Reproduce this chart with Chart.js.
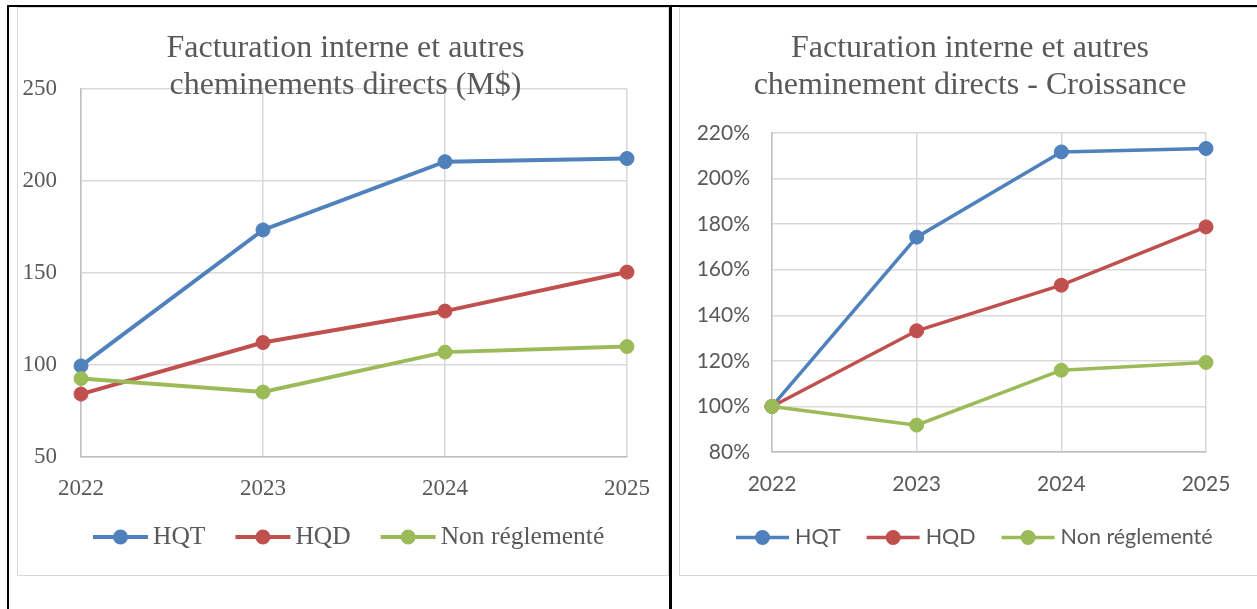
<!DOCTYPE html>
<html lang="fr">
<head>
<meta charset="utf-8">
<title>Facturation interne et autres cheminements directs</title>
<script src="https://cdn.jsdelivr.net/npm/chart.js@4"></script>
<style>
  html, body { margin: 0; padding: 0; background: #fff; overflow: hidden; }
  body { width: 1257px; height: 609px; position: relative; }
  .trait { position: absolute; background: #000; }
  .boite { position: absolute; box-sizing: border-box; border: 1px solid #d9d9d9; pointer-events: none; }
  canvas { position: absolute; }
</style>
</head>
<body>
<div class="trait" style="left:7px; top:5px; width:1250px; height:2px;"></div>
<div class="trait" style="left:7px; top:5px; width:2px; height:604px;"></div>
<div class="trait" style="left:669px; top:5px; width:3px; height:604px;"></div>

<canvas id="graphMontant" width="651" height="568" style="left:17px; top:7px;"></canvas>
<div class="boite" style="left:17px; top:7px; width:652px; height:569px;"></div>

<canvas id="graphCroissance" width="583" height="568" style="left:679px; top:7px;"></canvas>
<div class="boite" style="left:679px; top:7px; width:600px; height:569px;"></div>

<script>
// données
const annees = ["2022", "2023", "2024", "2025"];
const series = ["HQT", "HQD", "Non réglementé"];
const couleurs = ["#4f81bd", "#c0504d", "#9bbb59"];

// M$
const hqtMontant = [99.5, 173.4, 210.5, 212.2];
const hqdMontant = [84.2, 112.2, 129.3, 150.5];
const nonRegMontant = [92.6, 85.3, 107, 110];

// croissance, en % de 2022
const hqtCroissance = [100, 174.3, 211.7, 213.2];
const hqdCroissance = [100, 133.2, 153.2, 178.8];
const nonRegCroissance = [100, 91.8, 115.9, 119.3];

const titreMontant = ["Facturation interne et autres", "cheminements directs (M$)"];
const titreCroissance = ["Facturation interne et autres", "cheminement directs - Croissance"];

const gris = "#595959";
const serif = '"Liberation Serif", "Times New Roman", serif';
const sans = 'Lato, "Liberation Sans", sans-serif';

const titrePlugin = {
    id: "titreManuel",
    afterDraw(chart, args, opts) {
        const ctx = chart.ctx;
        ctx.save();
        ctx.font = "32px " + serif;
        ctx.fillStyle = gris;
        ctx.textAlign = "center";
        ctx.textBaseline = "middle";
        opts.lignes.forEach((t, i) => ctx.fillText(t, opts.x, opts.y[i]));
        ctx.restore();
    }
};

// légende maison : trait + rond + texte, comme Excel
const legendePlugin = {
    id: "legendeManuelle",
    afterDraw(chart, args, o) {
        const ctx = chart.ctx;
        ctx.save();
        ctx.font = o.taille + "px " + o.police;
        ctx.textBaseline = "middle";
        let x = o.x;
        chart.data.datasets.forEach(ds => {
            ctx.strokeStyle = ds.borderColor;
            ctx.lineWidth = ds.borderWidth;
            ctx.beginPath();
            ctx.moveTo(x, o.y);
            ctx.lineTo(x + o.trait, o.y);
            ctx.stroke();
            ctx.fillStyle = ds.borderColor;
            ctx.beginPath();
            ctx.arc(x + o.trait / 2, o.y, 7.5, 0, Math.PI * 2);
            ctx.fill();
            x += o.trait + o.ecart;
            ctx.fillStyle = gris;
            ctx.fillText(ds.label, x, o.y);
            x += ctx.measureText(ds.label).width + o.espace;
        });
        ctx.restore();
    }
};

function jeux(valeurs, epaisseur) {
    return valeurs.map((v, i) => ({
        label: series[i],
        data: v,
        borderColor: couleurs[i],
        backgroundColor: couleurs[i],
        borderWidth: epaisseur,
        pointRadius: 7,
        pointBorderWidth: 1,
        pointHoverRadius: 7,
        tension: 0,
        order: 2 - i
    }));
}

function creerGraph(id, cfg) {
    return new Chart(document.getElementById(id), {
        type: "line",
        data: {
            labels: annees,
            datasets: jeux(cfg.valeurs, cfg.epaisseur)
        },
        plugins: [titrePlugin, legendePlugin],
        options: {
            responsive: false,
            animation: false,
            layout: { padding: cfg.padding },
            scales: {
                x: {
                    grid: { color: "#d9d9d9", lineWidth: 1.5, drawTicks: false },
                    border: { color: "#bfbfbf", width: 1.5 },
                    ticks: { color: gris, font: { family: cfg.police, size: cfg.tailleTicks }, padding: cfg.padX, maxRotation: 0 },
                    afterFit(s) { s.height = 60; }
                },
                y: {
                    min: cfg.min,
                    max: cfg.max,
                    grid: { color: "#d9d9d9", lineWidth: 1.5, drawTicks: false },
                    border: { color: "#bfbfbf", width: 1.5 },
                    ticks: {
                        stepSize: cfg.pas,
                        color: gris,
                        padding: cfg.padY,
                        font: { family: cfg.police, size: cfg.tailleTicks },
                        callback: v => v + cfg.suffixe
                    },
                    afterFit(s) { s.width = cfg.largeurY; }
                }
            },
            plugins: {
                legend: { display: false },
                tooltip: { enabled: false },
                titreManuel: cfg.titre,
                legendeManuelle: cfg.legende
            }
        }
    });
}

creerGraph("graphMontant", {
    valeurs: [hqtMontant, hqdMontant, nonRegMontant],
    police: serif,
    tailleTicks: 23,
    epaisseur: 4,
    padding: { top: 82, left: 0, right: 35, bottom: 58 },
    padX: 18,
    padY: 24,
    largeurY: 64,
    min: 50, max: 250, pas: 50,
    suffixe: "",
    titre: { lignes: titreMontant, x: 328.5, y: [42, 79] },
    legende: { x: 76, y: 530, trait: 55, ecart: 5, espace: 30, taille: 25.5, police: serif }
});

creerGraph("graphCroissance", {
    valeurs: [hqtCroissance, hqdCroissance, nonRegCroissance],
    police: sans,
    tailleTicks: 21,
    epaisseur: 3.5,
    padding: { top: 126, left: 0, right: 56, bottom: 63 },
    padX: 20,
    padY: 22,
    largeurY: 93,
    min: 80, max: 220, pas: 20,
    suffixe: "%",
    titre: { lignes: titreCroissance, x: 291, y: [42, 78.5] },
    legende: { x: 57, y: 530.5, trait: 53, ecart: 6, espace: 26, taille: 21.5, police: sans }
});
</script>
</body>
</html>
